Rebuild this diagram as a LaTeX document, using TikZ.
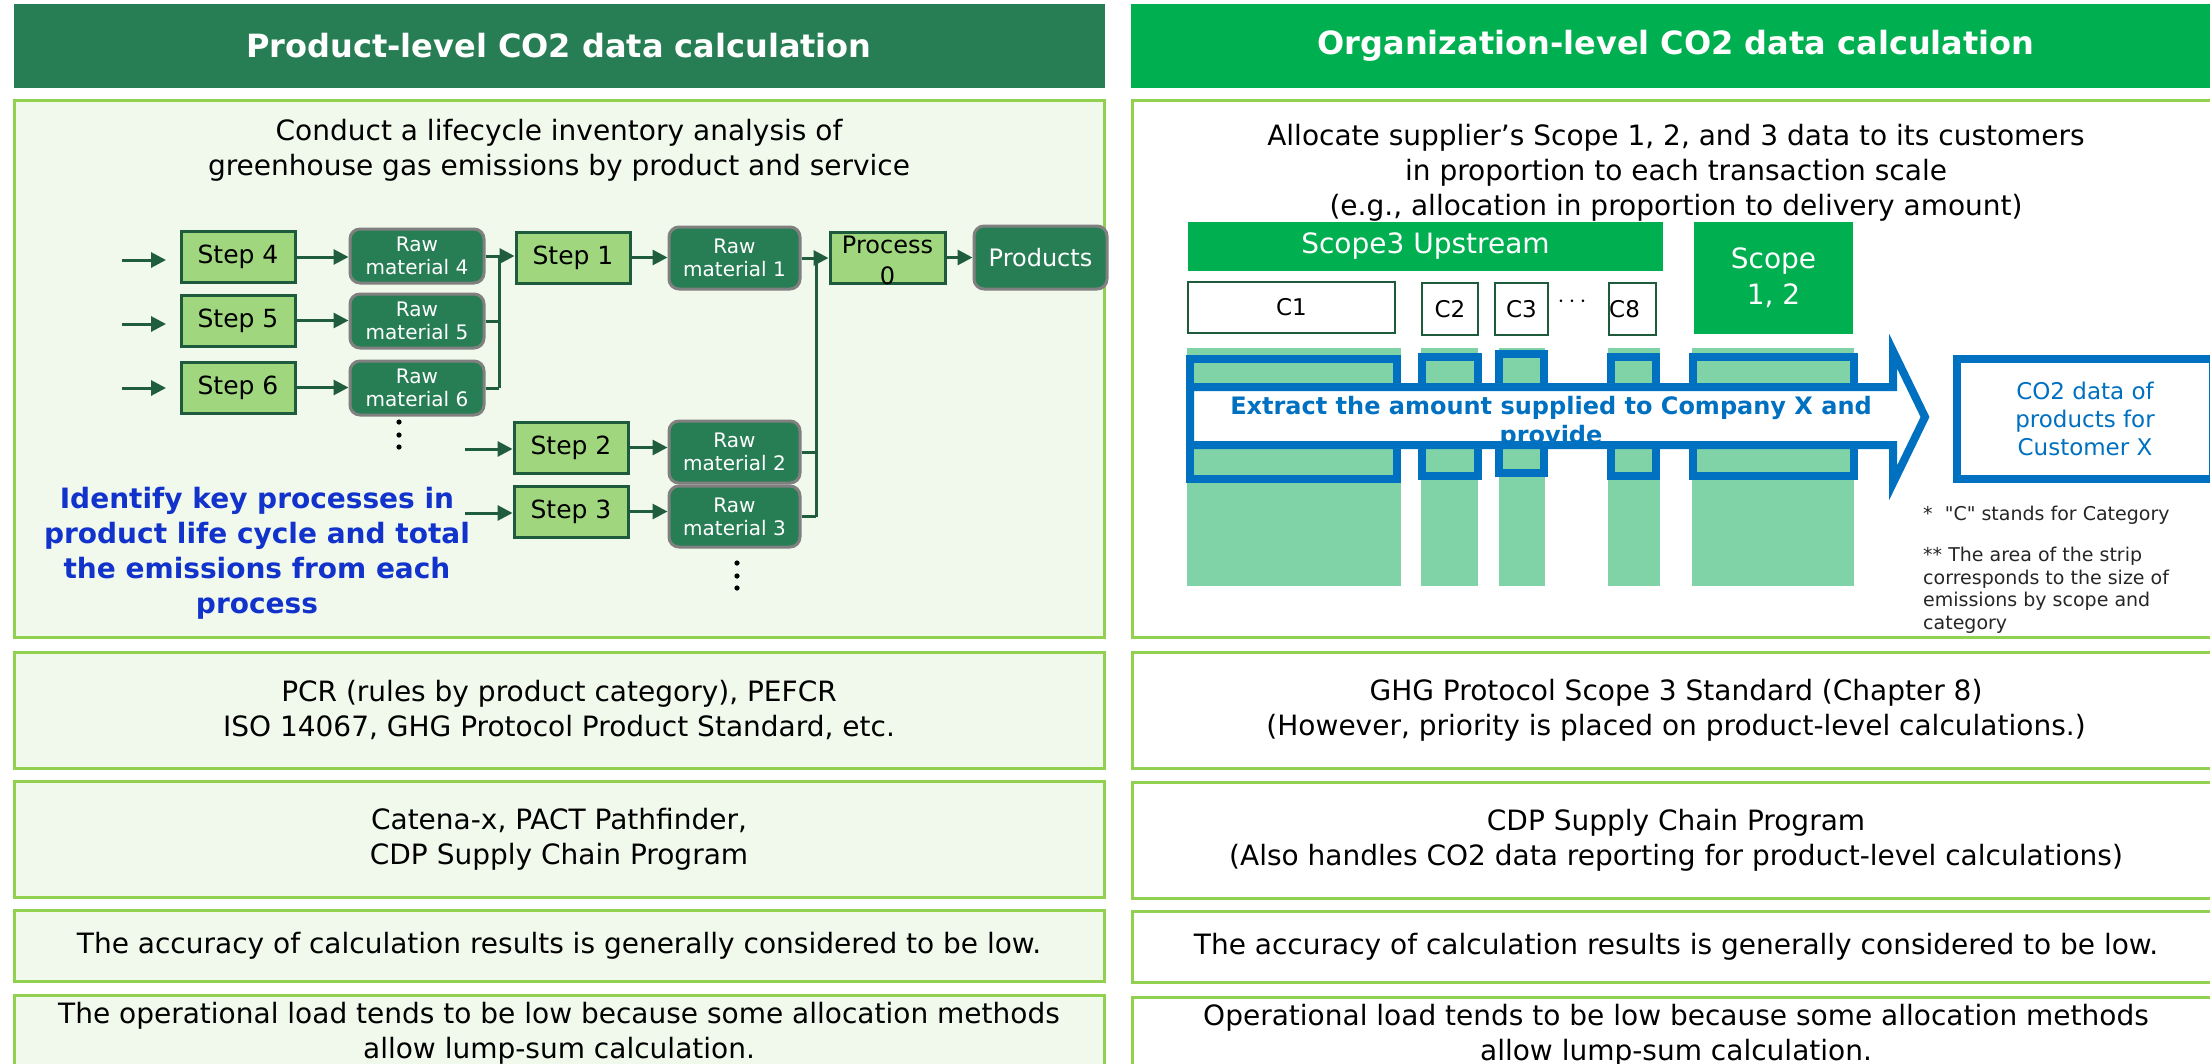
\documentclass[tikz,border=0pt]{standalone}
\usepackage{fontspec}
\setmainfont{DejaVu Sans}
\newfontfamily\notefont{DejaVu Sans}[Ligatures=TeXOff]
\usetikzlibrary{arrows.meta}
\definecolor{darkg}{RGB}{40,126,84}
\definecolor{brightg}{RGB}{0,176,80}
\definecolor{lightfill}{RGB}{241,248,236}
\definecolor{bordg}{RGB}{146,208,80}
\definecolor{stepfill}{RGB}{160,214,126}
\definecolor{stepdraw}{RGB}{30,90,60}
\definecolor{arrowc}{RGB}{32,92,62}
\definecolor{rawdraw}{RGB}{128,128,128}
\definecolor{stripc}{RGB}{127,211,166}
\definecolor{blueline}{RGB}{0,112,192}
\definecolor{idblue}{RGB}{17,51,204}
\definecolor{notec}{RGB}{38,38,38}
\newcommand{\myfs}[2]{\fontsize{#1}{#2}\selectfont}
\begin{document}
\begin{tikzpicture}[x=1pt,y=-1pt,
  hdr/.style={text=white, font=\bfseries\myfs{32}{38}, minimum height=84pt, inner sep=0pt},
  rowL/.style={draw=bordg, line width=3pt, fill=lightfill, minimum width=1090pt, align=center, font=\myfs{28}{35}, inner sep=0pt},
  rowR/.style={draw=bordg, line width=3pt, fill=white, minimum width=1088pt, align=center, font=\myfs{28}{35}, inner sep=0pt},
  bodytext/.style={align=center, font=\myfs{28}{35}, inner sep=0pt},
  stepbox/.style={draw=stepdraw, line width=3pt, fill=stepfill, minimum width=114pt, minimum height=51pt, font=\myfs{25}{30}, inner sep=0pt},
  rawbox/.style={draw=rawdraw, line width=3pt, fill=darkg, rounded corners=10pt, text=white, minimum width=134pt, minimum height=54pt, font=\myfs{20}{23}, align=center, inner sep=0pt},
  flow/.style={draw=arrowc, line width=3pt, -{Triangle[length=15pt,width=15pt]}},
  link/.style={draw=arrowc, line width=3pt},
  greenbox/.style={fill=brightg, text=white, font=\myfs{28}{36}, align=center, inner sep=0pt},
  cbox/.style={draw=stepdraw, line width=2pt, fill=white, minimum height=51pt, font=\myfs{23}{28}, inner sep=0pt},
  bluerect/.style={draw=blueline, line width=8pt},
  dotc/.style={fill=black}
]
\useasboundingbox (0,0) rectangle (2210,1063);
\clip (0,0) rectangle (2210,1063);
\fill[white] (0,0) rectangle (2210,1063);

% headers
\node[hdr, fill=darkg, minimum width=1091pt] (hl) at (559,46) {Product-level CO2 data calculation};
\node[hdr, fill=brightg, minimum width=1090pt] (hr) at (1676,46) {Organization-level CO2 data calculation};

% top boxes
\node[rowL, minimum height=537pt] (tl) at (559,368.5) {};
\node[rowR, minimum height=537pt] (tr) at (1676,368.5) {};
\node[bodytext] (tlt) at (559,150) {Conduct a lifecycle inventory analysis of\\greenhouse gas emissions by product and service};
\node[bodytext] (trt) at (1676,173) {Allocate supplier’s Scope 1, 2, and 3 data to its customers\\in proportion to each transaction scale\\(e.g., allocation in proportion to delivery amount)};

% ---------- flow chart ----------
\node[stepbox] (s4) at (238,257) {Step 4};
\node[stepbox] (s5) at (238,320.5) {Step 5};
\node[stepbox] (s6) at (238,387.5) {Step 6};
\node[rawbox] (r4) at (417,256) {Raw\\material 4};
\node[rawbox] (r5) at (417,321) {Raw\\material 5};
\node[rawbox] (r6) at (417,388) {Raw\\material 6};
\node[stepbox] (s1) at (573,257.5) {Step 1};
\node[rawbox, minimum width=131pt, minimum height=62pt] (r1) at (734.5,258) {Raw\\material 1};
\node[stepbox, minimum width=115pt] (p0) at (887.5,257.5) {};
\node[font=\myfs{24}{31}, align=center, inner sep=0pt] (p0t) at (887.5,260) {Process\\0};
\node[rawbox, minimum width=133pt, minimum height=63pt, font=\myfs{24}{28}] (prod) at (1040.5,257.5) {Products};
\node[stepbox] (s2) at (571,447.5) {Step 2};
\node[stepbox] (s3) at (571,511.5) {Step 3};
\node[rawbox, minimum width=131pt, minimum height=62pt] (r2) at (734.5,452) {Raw\\material 2};
\node[rawbox, minimum width=131pt, minimum height=61pt] (r3) at (734.5,516.5) {Raw\\material 3};

\coordinate (i4) at (122,260);
\coordinate (i5) at (122,324);
\coordinate (i6) at (122,388);
\coordinate (e4) at (166,260);
\coordinate (e5) at (166,324);
\coordinate (e6) at (166,388);
\coordinate (i2) at (465,449);
\coordinate (i3) at (465,513);
\draw[flow] (i4) -- (e4);
\draw[flow] (i5) -- (e5);
\draw[flow] (i6) -- (e6);
\draw[flow] (i2) -- (i2 -| s2.west);
\draw[flow] (i3) -- (i3 -| s3.west);

\draw[flow] (s4.east) -- (s4.east -| r4.west);
\draw[flow] (s5.east) -- (s5.east -| r5.west);
\draw[flow] (s6.east) -- (s6.east -| r6.west);

\coordinate (ja) at (499,0);
\draw[flow] (r4.east) -- (r4.east -| s1.west);
\draw[link] (r5.east) -- (r5.east -| ja);
\draw[link] (r6.east) -- (r6.east -| ja);
\draw[link] (r4.east -| ja) -- (r6.east -| ja);

\draw[flow] (s1.east) -- (s1.east -| r1.west);
\draw[flow] (s2.east) -- (s2.east -| r2.west);
\draw[flow] (s3.east) -- (s3.east -| r3.west);

\coordinate (jb) at (816,0);
\draw[flow] (r1.east) -- (r1.east -| p0.west);
\draw[link] (r2.east) -- (r2.east -| jb);
\draw[link] (r3.east) -- (r3.east -| jb);
\draw[link] (r1.east -| jb) -- (r3.east -| jb);
\draw[flow] (p0.east) -- (p0.east -| prod.west);

\foreach \yy in {422,435,447} \fill[dotc] (399,\yy) circle (2.6pt);
\foreach \yy in {563,576,588} \fill[dotc] (737,\yy) circle (2.6pt);

\node[align=center, text=idblue, font=\bfseries\myfs{28}{35}, inner sep=0pt] (idt) at (257,553) {Identify key processes in\\product life cycle and total\\the emissions from each\\process};

% ---------- right diagram ----------
\node[greenbox, minimum width=475pt, minimum height=49pt] (s3up) at (1425.5,246.5) {Scope3 Upstream};
\node[greenbox, minimum width=159pt, minimum height=112pt] (s12) at (1773.5,278) {Scope\\1, 2};
\node[cbox, minimum width=207pt] (c1) at (1291.5,307.5) {C1};
\node[cbox, minimum width=56pt, minimum height=52pt] (c2) at (1450,309) {C2};
\node[cbox, minimum width=53pt, minimum height=52pt] (c3) at (1521.5,309) {C3};
\node[inner sep=0pt, font=\myfs{28}{30}] (cdots) at (1572,302) {$\cdots$};
\node[cbox, minimum width=47pt, minimum height=52pt] (c8) at (1632.5,309) {};
\node[font=\myfs{23}{28}, inner sep=0pt, anchor=west] (c8t) at ([xshift=1pt]c8.west) {C8};

% strips
\fill[stripc] (1187,348) rectangle (1401,586);
\fill[stripc] (1421,348) rectangle (1478,586);
\fill[stripc] (1499,348) rectangle (1545,586);
\fill[stripc] (1608,348) rectangle (1660,586);
\fill[stripc] (1692,348) rectangle (1854,586);

% extraction rectangles
\draw[bluerect] (1190,359) rectangle (1397,479);
\draw[bluerect] (1422,357) rectangle (1478,476);
\draw[bluerect] (1499,354) rectangle (1544,473);
\draw[bluerect] (1611,357) rectangle (1656,476);
\draw[bluerect] (1693,357) rectangle (1854,476);

% big arrow
\fill[white] (1190,387) -- (1893,387) -- (1893,351) -- (1925,417) -- (1893,483) -- (1893,445) -- (1190,445) -- cycle;
\node[align=center, text=blueline, font=\bfseries\myfs{24}{29}, inner sep=0pt] (extr) at (1551,422) {Extract the amount supplied to Company X and\\provide};
\draw[bluerect, line join=miter] (1190,387) -- (1893,387) -- (1893,351) -- (1925,417) -- (1893,483) -- (1893,445) -- (1190,445) -- cycle;

\node[draw=blueline, line width=8pt, fill=white, minimum width=256pt, minimum height=120pt, align=center, text=blueline, font=\myfs{23}{28}, inner sep=0pt] (co2) at (2085,419) {CO2 data of\\products for\\Customer X};

\node[anchor=west, text=notec, font=\notefont\myfs{19}{22.5}, inner sep=0pt] (n1) at (1923,515) {*\ \ "C" stands for Category};
\node[anchor=west, align=left, text=notec, font=\notefont\myfs{19}{22.5}, inner sep=0pt] (n2) at (1923,590) {** The area of the strip\\corresponds to the size of\\emissions by scope and\\category};

% ---------- lower rows ----------
\node[rowL, minimum height=116pt] (l2) at (559,710) {PCR (rules by product category), PEFCR\\ISO 14067, GHG Protocol Product Standard, etc.};
\node[rowL, minimum height=116pt] (l3) at (559,839) {Catena-x, PACT Pathfinder,\\CDP Supply Chain Program};
\node[rowL, minimum height=71pt] (l4) at (559,945.5) {The accuracy of calculation results is generally considered to be low.};
\node[rowL, minimum height=76pt] (l5) at (559,1033) {The operational load tends to be low because some allocation methods\\allow lump-sum calculation.};

\node[rowR, minimum height=116pt] (q2) at (1676,710) {GHG Protocol Scope 3 Standard (Chapter 8)\\(However, priority is placed on product-level calculations.)};
\node[rowR, minimum height=116pt] (q3) at (1676,840) {CDP Supply Chain Program\\(Also handles CO2 data reporting for product-level calculations)};
\node[rowR, minimum height=71pt] (q4) at (1676,947) {The accuracy of calculation results is generally considered to be low.};
\node[rowR, minimum height=76pt] (q5) at (1676,1035) {Operational load tends to be low because some allocation methods\\allow lump-sum calculation.};
\end{tikzpicture}
\end{document}
